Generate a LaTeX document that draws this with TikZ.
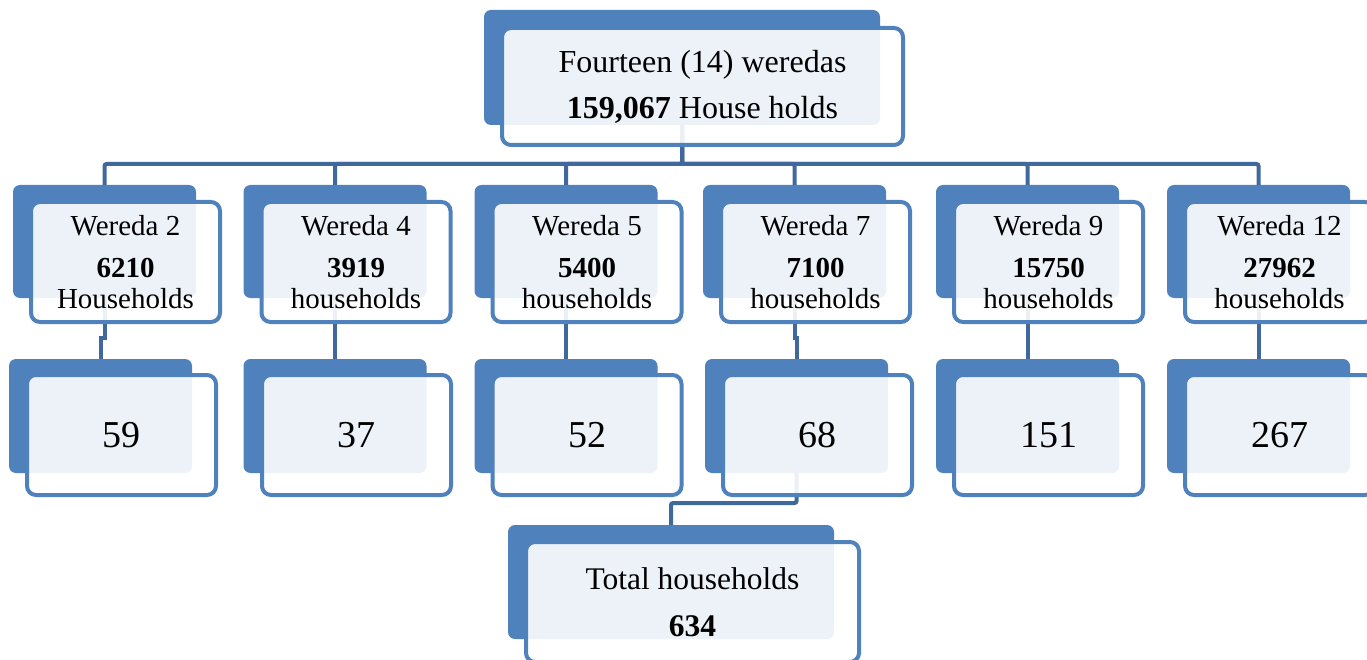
\documentclass[tikz,border=0pt]{standalone}
\usepackage{fontspec}
\setmainfont{Liberation Serif}
\definecolor{boxblue}{RGB}{79,129,189}
\definecolor{connblue}{RGB}{64,104,156}
\tikzset{
  backbox/.style={fill=boxblue, draw=none, rounded corners=7pt, inner sep=0pt, minimum height=114pt},
  frontbox/.style={fill=white, fill opacity=0.9, text opacity=1, draw=boxblue, line width=4pt,
     rounded corners=9pt, inner sep=0pt, minimum width=189pt, minimum height=120pt, align=center, text=black},
  conn/.style={draw=connblue, line width=4pt, rounded corners=2pt},
  sconn/.style={draw=connblue, line width=4pt},
  wtxt/.style={font=\fontsize{29}{31}\selectfont},
  ntxt/.style={font=\fontsize{38}{40}\selectfont},
  ttxt/.style={font=\fontsize{32}{46}\selectfont},
}
\begin{document}
\begin{tikzpicture}[x=1pt,y=-1pt]
\useasboundingbox (0,0) rectangle (1367,660);
\clip (0,0) rectangle (1367,660);
% back boxes
\node[backbox, minimum width=396pt, minimum height=115pt] (topb) at (682,67.5) {};
\node[backbox, minimum width=183pt, minimum height=113pt] (w2b) at (104.5,241.5) {};
\node[backbox, minimum width=183pt, minimum height=113pt] (w4b) at (335,241.5) {};
\node[backbox, minimum width=183pt, minimum height=113pt] (w5b) at (566,241.5) {};
\node[backbox, minimum width=183pt, minimum height=113pt] (w7b) at (794.5,241.5) {};
\node[backbox, minimum width=183pt, minimum height=113pt] (w9b) at (1027.5,241.5) {};
\node[backbox, minimum width=183pt, minimum height=113pt] (w12b) at (1258.5,241.5) {};
\node[backbox, minimum width=183pt] (n59b) at (100.5,416) {};
\node[backbox, minimum width=183pt] (n37b) at (335,416) {};
\node[backbox, minimum width=183pt] (n52b) at (566,416) {};
\node[backbox, minimum width=183pt] (n68b) at (796.5,416) {};
\node[backbox, minimum width=183pt] (n151b) at (1027.5,416) {};
\node[backbox, minimum width=183pt] (n267b) at (1258.5,416) {};
\node[backbox, minimum width=326pt] (totb) at (671,582) {};
% connectors
\coordinate (bus) at (0,164);
\coordinate (mid2) at (0,338);
\coordinate (mid3) at (0,503);
\foreach \c in {w2b,w4b,w5b,w7b,w9b,w12b}
  \draw[conn] (topb.south) -- (topb.south |- bus) -| (\c.north);
\draw[sconn] (w2b.south) -- (w2b.south |- mid2) -| (n59b.north);
\draw[sconn] (w4b.south) -- (n37b.north);
\draw[sconn] (w5b.south) -- (n52b.north);
\draw[sconn] (w7b.south) -- (w7b.south |- mid2) -| (n68b.north);
\draw[sconn] (w9b.south) -- (n151b.north);
\draw[sconn] (w12b.south) -- (n267b.north);
\draw[conn] (n68b.south) -- (n68b.south |- mid3) -| (totb.north);
% front boxes
\node[frontbox, ttxt, minimum width=401pt, minimum height=117pt] (top) at (702.5,86.5)
  {Fourteen (14) weredas\\\textbf{159,067} House holds};
\node[frontbox, wtxt] (w2) at (125.5,262) {Wereda 2\\[11pt]\textbf{6210}\\Households};
\node[frontbox, wtxt] (w4) at (356,262) {Wereda 4\\[11pt]\textbf{3919}\\households};
\node[frontbox, wtxt] (w5) at (587,262) {Wereda 5\\[11pt]\textbf{5400}\\households};
\node[frontbox, wtxt] (w7) at (815.5,262) {Wereda 7\\[11pt]\textbf{7100}\\households};
\node[frontbox, wtxt] (w9) at (1048.5,262) {Wereda 9\\[11pt]\textbf{15750}\\households};
\node[frontbox, wtxt] (w12) at (1279.5,262) {Wereda 12\\[11pt]\textbf{27962}\\households};
\node[frontbox, ntxt] (n59) at (121.5,435) {59};
\node[frontbox, ntxt] (n37) at (356.5,435) {37};
\node[frontbox, ntxt] (n52) at (587,435) {52};
\node[frontbox, ntxt] (n68) at (817.5,435) {68};
\node[frontbox, ntxt] (n151) at (1048.5,435) {151};
\node[frontbox, ntxt] (n267) at (1279.5,435) {267};
\node[frontbox, font=\fontsize{31.5}{47}\selectfont, minimum width=333pt] (tot) at (692.5,602)
  {Total households\\\textbf{634}};
\end{tikzpicture}
\end{document}
